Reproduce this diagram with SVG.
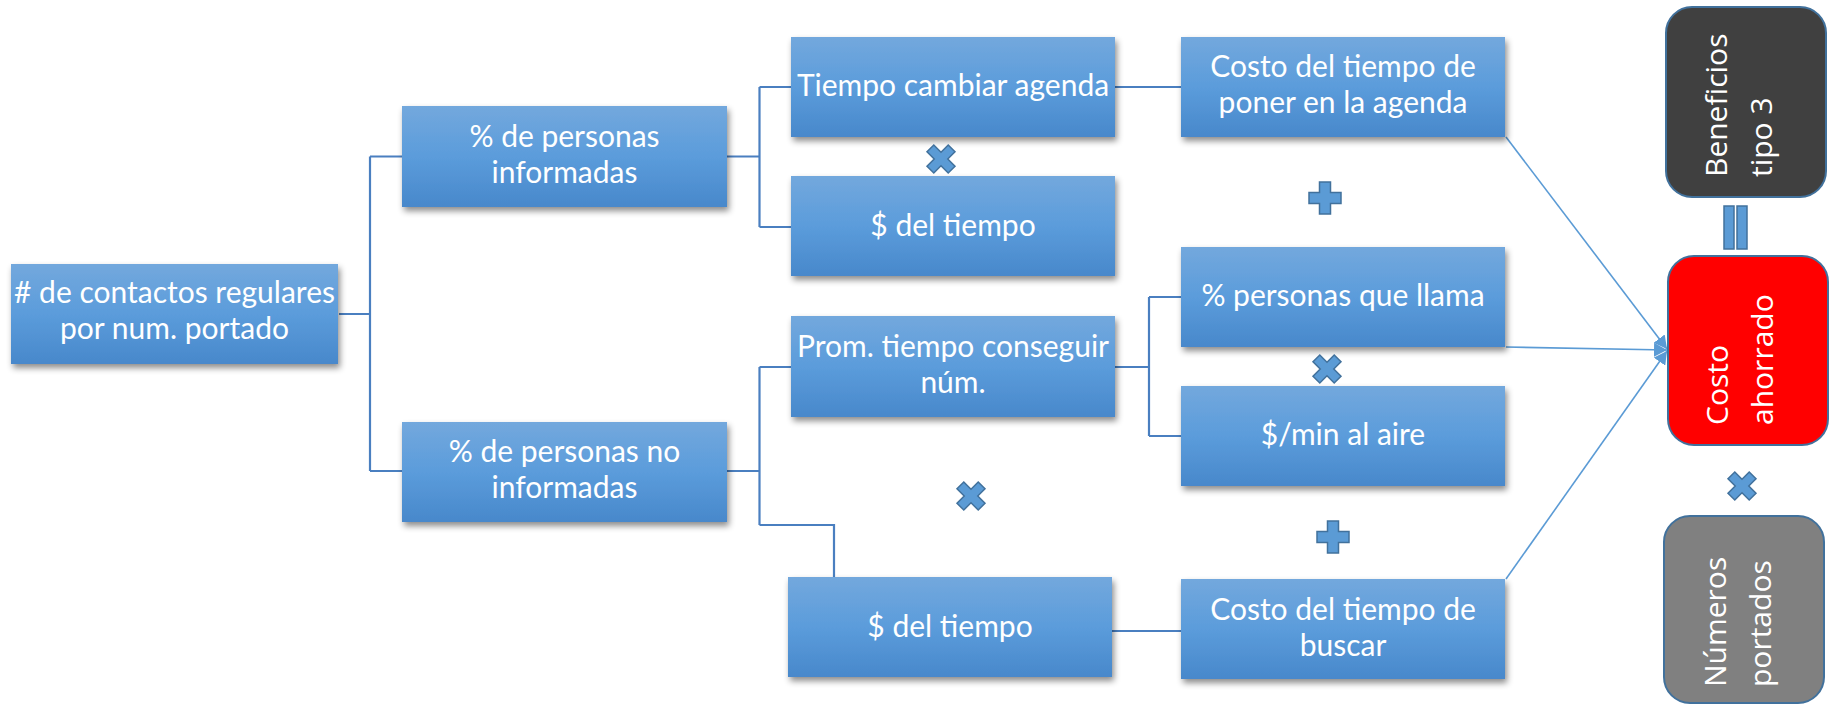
<svg xmlns="http://www.w3.org/2000/svg" width="1837" height="705" viewBox="0 0 1837 705">
<style>
.box{fill:url(#blueGrad);filter:url(#shadow)}
.bt{font-family:Lato,"Liberation Sans",sans-serif;font-size:30px;fill:#ffffff;text-anchor:middle}
.rt{font-family:"Open Sans","Noto Sans",sans-serif;font-size:30px;fill:#ffffff}
.rbox{stroke:#41719c;stroke-width:2}
.elbow{fill:none;stroke:#4a7fc0;stroke-width:2.2}
.diag{fill:none;stroke:#5b9bd5;stroke-width:1.6;marker-end:url(#arrow)}
.sym{fill:#5b9bd5;stroke:#41719c;stroke-width:1.5}
</style>
<defs>
<linearGradient id="blueGrad" x1="0" y1="0" x2="0" y2="1">
<stop offset="0" stop-color="#73a8dd"/>
<stop offset="0.5" stop-color="#5b9cdb"/>
<stop offset="1" stop-color="#4888cb"/>
</linearGradient>
<filter id="shadow" x="-10%" y="-10%" width="130%" height="140%">
<feDropShadow dx="2" dy="4" stdDeviation="3" flood-color="#000000" flood-opacity="0.45"/>
</filter>
<marker id="arrow" markerUnits="userSpaceOnUse" markerWidth="14" markerHeight="14" refX="13" refY="7" orient="auto">
<path d="M0,0 L13,7 L0,14 Z" fill="#5b9bd5"/>
</marker>
<path id="plus" d="M-5.5,-16 H5.5 V-5.5 H16 V5.5 H5.5 V16 H-5.5 V5.5 H-16 V-5.5 H-5.5 Z"/>
<path id="mul" transform="rotate(45)" d="M-4.8,-15 H4.8 V-4.8 H15 V4.8 H4.8 V15 H-4.8 V4.8 H-15 V-4.8 H-4.8 Z"/>
</defs>

<g id="connectors">
<path class="elbow" d="M339,314 H370 M370,156.5 V471 M370,156.5 H402 M370,471 H402"/>
<path class="elbow" d="M727,156.5 H759.5 M759.5,87 V227 M759.5,87 H791 M759.5,227 H791"/>
<path class="elbow" d="M727,471 H759.5 M759.5,367 V525 M759.5,367 H791 M759.5,525 H834 V577"/>
<path class="elbow" d="M1115,87 H1181"/>
<path class="elbow" d="M1115,367 H1149 M1149,297 V436 M1149,297 H1181 M1149,436 H1181"/>
<path class="elbow" d="M1112,631 H1181"/>
<path class="diag" d="M1506,137 L1667,349"/>
<path class="diag" d="M1506,347 L1667,350"/>
<path class="diag" d="M1506,579 L1667,351"/>
</g>

<g id="n-root">
<rect class="box" x="11" y="264" width="327" height="100"/>
<text class="bt" x="174.5" y="303"><tspan x="174.5"># de contactos regulares</tspan><tspan x="174.5" dy="36">por num. portado</tspan></text>
</g>
<g id="n-informadas">
<rect class="box" x="402" y="106" width="325" height="101"/>
<text class="bt" x="564.5" y="147"><tspan x="564.5">% de personas</tspan><tspan x="564.5" dy="36">informadas</tspan></text>
</g>
<g id="n-noinformadas">
<rect class="box" x="402" y="422" width="325" height="100"/>
<text class="bt" x="564.5" y="462"><tspan x="564.5">% de personas no</tspan><tspan x="564.5" dy="36">informadas</tspan></text>
</g>
<g id="n-tiempoagenda">
<rect class="box" x="791" y="37" width="324" height="100"/>
<text class="bt" x="953" y="96">Tiempo cambiar agenda</text>
</g>
<g id="n-tiempo1">
<rect class="box" x="791" y="176" width="324" height="100"/>
<text class="bt" x="953" y="236">$ del tiempo</text>
</g>
<g id="n-prom">
<rect class="box" x="791" y="316" width="324" height="101"/>
<text class="bt" x="953" y="357"><tspan x="953">Prom. tiempo conseguir</tspan><tspan x="953" dy="36">núm.</tspan></text>
</g>
<g id="n-tiempo2">
<rect class="box" x="788" y="577" width="324" height="100"/>
<text class="bt" x="950" y="637">$ del tiempo</text>
</g>
<g id="n-costoagenda">
<rect class="box" x="1181" y="37" width="324" height="100"/>
<text class="bt" x="1343" y="77"><tspan x="1343">Costo del tiempo de</tspan><tspan x="1343" dy="36">poner en la agenda</tspan></text>
</g>
<g id="n-llama">
<rect class="box" x="1181" y="247" width="324" height="100"/>
<text class="bt" x="1343" y="306">% personas que llama</text>
</g>
<g id="n-minaire">
<rect class="box" x="1181" y="386" width="324" height="100"/>
<text class="bt" x="1343" y="445">$/min al aire</text>
</g>
<g id="n-costobuscar">
<rect class="box" x="1181" y="579" width="324" height="100"/>
<text class="bt" x="1343" y="620"><tspan x="1343">Costo del tiempo de</tspan><tspan x="1343" dy="36">buscar</tspan></text>
</g>

<g id="n-beneficios">
<rect class="rbox" x="1666" y="7" width="160" height="190" rx="26" fill="#404040"/>
<text class="rt" transform="translate(1727,177) rotate(-90)"><tspan x="0" y="0">Beneficios</tspan><tspan x="0" y="45">tipo 3</tspan></text>
</g>
<g id="n-costoahorrado">
<rect class="rbox" x="1668" y="256" width="160" height="189" rx="26" fill="#ff0000"/>
<text class="rt" transform="translate(1728,425) rotate(-90)"><tspan x="0" y="0">Costo</tspan><tspan x="0" y="45">ahorrado</tspan></text>
</g>
<g id="n-numeros">
<rect class="rbox" x="1664" y="516" width="160" height="187" rx="26" fill="#808080"/>
<text class="rt" transform="translate(1726,687) rotate(-90)"><tspan x="0" y="0">Números</tspan><tspan x="0" y="45">portados</tspan></text>
</g>

<g id="symbols">
<use href="#mul" class="sym" x="941" y="159"/>
<use href="#mul" class="sym" x="971" y="496"/>
<use href="#mul" class="sym" x="1327" y="369"/>
<use href="#mul" class="sym" x="1742" y="486"/>
<use href="#plus" class="sym" x="1325" y="198"/>
<use href="#plus" class="sym" x="1333" y="537"/>
<rect class="sym" x="1724" y="206" width="10" height="43"/>
<rect class="sym" x="1737" y="206" width="10" height="43"/>
</g>
</svg>
